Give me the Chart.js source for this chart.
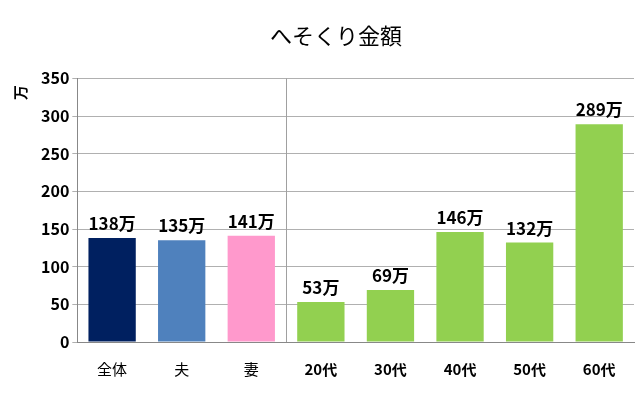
<!DOCTYPE html>
<html><head><meta charset="utf-8">
<script src="https://cdn.jsdelivr.net/npm/chart.js@4"></script>
<style>body{margin:0;background:#fff}#wrap{width:640px;height:400px}</style>
</head><body><div id="wrap"><canvas id="c"></canvas></div>
<script>
const categories = ['全体', '夫', '妻', '20代', '30代', '40代', '50代', '60代'];
const amounts = [138, 135, 141, 53, 69, 146, 132, 289];
const barColors = ['#002060', '#4F81BD', '#FF99CC', '#92D050', '#92D050', '#92D050', '#92D050', '#92D050'];
const FONT = '"Noto Sans CJK JP", sans-serif';

const extras = {
    id: 'extras',
    afterDatasetsDraw(chart) {
        const ctx = chart.ctx;
        const meta = chart.getDatasetMeta(0);
        const area = chart.chartArea;
        ctx.save();
        ctx.fillStyle = '#000';
        ctx.font = 'bold 17px ' + FONT;
        ctx.textAlign = 'center';
        ctx.textBaseline = 'bottom';
        meta.data.forEach((bar, i) => {
            ctx.fillText(amounts[i] + '万', bar.x, bar.y - 6);
        });
        // unit label at top left, rotated
        ctx.save();
        ctx.translate(20, area.top + 14);
        ctx.rotate(-Math.PI / 2);
        ctx.textBaseline = 'middle';
        ctx.font = 'bold 15px ' + FONT;
        ctx.fillText('万', 0, 0);
        ctx.restore();
        // separator between groups
        const x = chart.scales.x.getPixelForValue(2.5);
        ctx.strokeStyle = '#A0A0A0';
        ctx.lineWidth = 1;
        ctx.beginPath();
        ctx.moveTo(Math.round(x) + 0.5, area.top);
        ctx.lineTo(Math.round(x) + 0.5, area.bottom);
        ctx.stroke();
        ctx.restore();
    }
};

new Chart(document.getElementById('c').getContext('2d'), {
    type: 'bar',
    data: {
        labels: categories,
        datasets: [{
            data: amounts,
            backgroundColor: barColors,
            categoryPercentage: 0.68,
            barPercentage: 1,
        }]
    },
    options: {
        responsive: true,
        maintainAspectRatio: false,
        animation: false,
        layout: { padding: { left: 38, right: 6, top: 10, bottom: 12 } },
        plugins: {
            legend: { display: false },
            tooltip: { enabled: false },
            title: {
                display: true,
                text: 'へそくり金額',
                color: '#000',
                font: { family: FONT, size: 22, weight: 'normal' },
                padding: { top: 12, bottom: 30 }
            }
        },
        scales: {
            y: {
                min: 0, max: 350,
                ticks: { stepSize: 50, color: '#000', font: { family: FONT, size: 16, weight: 'bold' } },
                grid: { color: '#B0B0B0', tickLength: 5 },
                border: { color: '#888' }
            },
            x: {
                ticks: {
                    color: '#000',
                    padding: 10,
                    font: ctx => ({ family: FONT, size: 15, weight: ctx.index >= 3 ? 'bold' : 'normal' })
                },
                grid: { display: false },
                border: { color: '#888' }
            }
        }
    },
    plugins: [extras]
});
</script></body></html>
